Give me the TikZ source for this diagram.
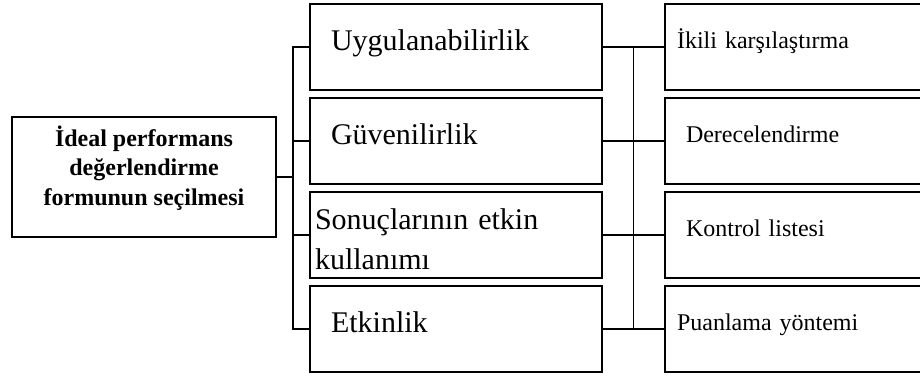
\documentclass[tikz,border=0pt]{standalone}
\usepackage{fontspec}
\setmainfont{Liberation Serif}
\usetikzlibrary{positioning,calc}

\begin{document}
\begin{tikzpicture}[x=1pt, y=1pt,
  node distance=8pt and 63pt,
  box/.style={draw, line width=1.8pt, inner ysep=0pt, outer sep=0pt},
  anabox/.style={box, minimum width=264pt, minimum height=120pt, align=center,
                 font=\fontsize{24}{29.5}\selectfont\bfseries},
  ortabox/.style={box, minimum height=86pt, inner xsep=21pt, text width=250pt, align=left,
                  text height=21pt, text depth=14pt, font=\fontsize{30}{40}\selectfont},
  sagbox/.style={box, minimum height=86pt, inner xsep=12pt, text width=241pt, align=left,
                 text height=17pt, text depth=14pt, font=\fontsize{24}{29}\selectfont},
  sagic/.style={sagbox, inner xsep=21pt, text width=223pt},
  hat/.style={line width=1.3pt}]
\useasboundingbox (0,0) rectangle (920,377);
\node[ortabox, anchor=north west] (uyg) at (310,373) {Uygulanabilirlik};
\node[ortabox, below=of uyg] (guv) {Güvenilirlik};
\node[ortabox, below=of guv, inner xsep=5pt, text width=282pt, text height=30pt, text depth=40pt] (son) {Sonuçlarının etkin\\kullanımı};
\node[ortabox, below=of son] (etk) {Etkinlik};
\node[anabox] (secim) at (144,200) {İdeal performans\\değerlendirme\\formunun seçilmesi\\[-6pt]\mbox{}};
\node[sagbox, right=of uyg] (ikili) {İkili karşılaştırma};
\node[sagic, right=of guv] (derece) {Derecelendirme};
\node[sagic, right=of son] (kontrol) {Kontrol listesi};
\node[sagbox, right=of etk] (puan) {Puanlama yöntemi};
\coordinate (bus1) at ($(secim.east)+(17,0)$);
\coordinate (bus2) at ($(guv.east)!0.5!(derece.west)$);
\draw[hat] (secim.east) -- (bus1);
\foreach \n in {uyg,guv,son,etk} \draw[hat] (\n.west) -| (bus1);
\foreach \n in {uyg,guv,son,etk} \draw[hat] (\n.east) -| (bus2);
\foreach \n in {ikili,derece,kontrol,puan} \draw[hat] (\n.west) -| (bus2);
\end{tikzpicture}
\end{document}
